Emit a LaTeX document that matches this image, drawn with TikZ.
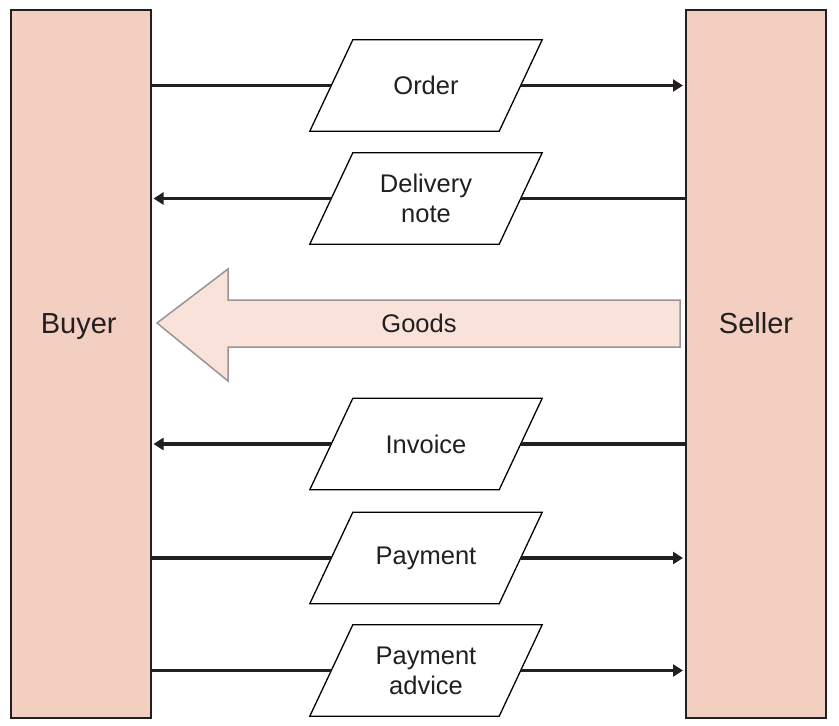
\documentclass[tikz,border=0pt]{standalone}
\usepackage{fontspec}
\setmainfont{Liberation Sans}
\usetikzlibrary{arrows.meta}
\definecolor{partyfill}{HTML}{F2CFC1}
\definecolor{partyline}{HTML}{231F20}
\definecolor{goodsfill}{HTML}{F9E2D9}
\definecolor{goodsline}{HTML}{9A9494}
\definecolor{txt}{HTML}{231F20}
\tikzset{
  party/.style={draw=partyline, fill=partyfill, line width=2pt, minimum width=140pt, minimum height=708pt, inner sep=0pt},
  partytext/.style={text=txt, anchor=base, font=\fontsize{29}{34}\selectfont},
  doc/.style={minimum width=189pt, minimum height=91pt, inner sep=0pt,
    text=txt, align=center, font=\fontsize{25.5}{30}\selectfont},
  docline/.style={draw=black, line width=1.3pt, line join=miter},
  flow/.style={draw=partyline, line width=3.3pt},
  flowarrow/.style={flow, -{Triangle[length=10pt,width=12pt]}, shorten >=2pt},
}
\begin{document}
\begin{tikzpicture}[x=1pt,y=-1pt]
\useasboundingbox (0,0) rectangle (839,726);
\node[party] (buyer) at (80.5,364) {};
\node[party] (seller) at (756,364) {};
\node[partytext] (buyertext) at (78.7,333) {Buyer};
\node[partytext] (sellertext) at (756,333) {Seller};

% Goods arrow
\draw[draw=goodsline, fill=goodsfill, line width=1.5pt, line join=miter]
  (157,323) -- (228,269) -- (228,300) -- (680,300) -- (680,347) -- (228,347) -- (228,381) -- cycle;
\node[text=txt, anchor=base, font=\fontsize{25.5}{30}\selectfont] (goods) at (419,332) {Goods};

% documents
\node[doc] (order) at (426,85.5) {Order};
\node[doc] (delivery) at (426,198.5) {Delivery\\note};
\node[doc] (invoice) at (426,444) {Invoice};
\node[doc] (payment) at (426,558) {Payment};
\node[doc] (advice) at (426,670.5) {Payment\\advice};
\foreach \n in {order,delivery,invoice,payment,advice}
  \draw[docline] ([xshift=-21.5pt]\n.south west) -- ([xshift=-21.5pt]\n.south east)
    -- ([xshift=21.5pt]\n.north east) -- ([xshift=21.5pt]\n.north west) -- cycle;

% buyer -> seller
\draw[flow] (buyer.east |- order) -- (order.west);
\draw[flowarrow] (order.east) -- (seller.west |- order);
\draw[flow] (buyer.east |- payment) -- (payment.west);
\draw[flowarrow] (payment.east) -- (seller.west |- payment);
\draw[flow] (buyer.east |- advice) -- (advice.west);
\draw[flowarrow] (advice.east) -- (seller.west |- advice);

% seller -> buyer
\draw[flow] (seller.west |- delivery) -- (delivery.east);
\draw[flowarrow] (delivery.west) -- (buyer.east |- delivery);
\draw[flow] (seller.west |- invoice) -- (invoice.east);
\draw[flowarrow] (invoice.west) -- (buyer.east |- invoice);
\end{tikzpicture}
\end{document}
